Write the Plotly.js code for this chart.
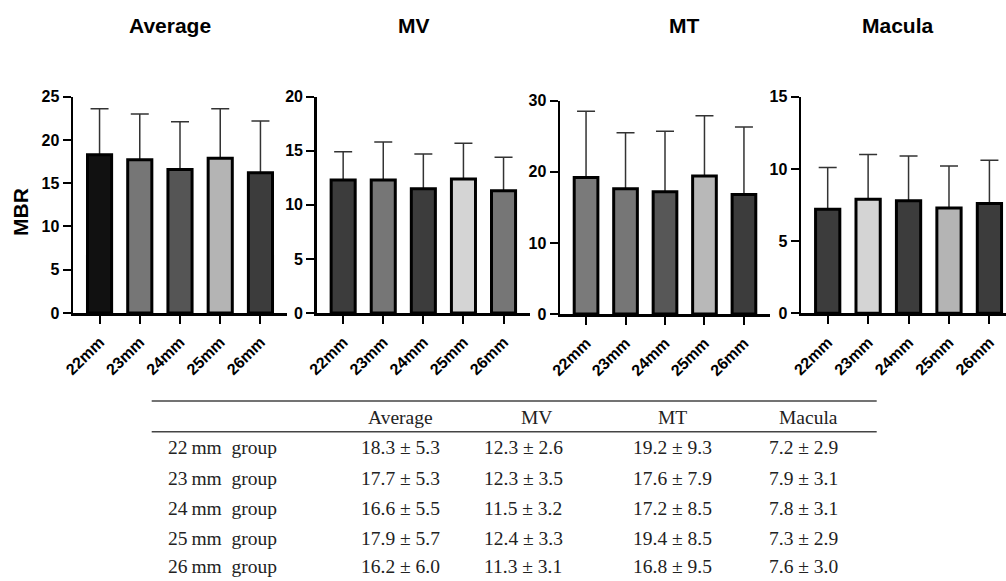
<!DOCTYPE html>
<html>
<head>
<meta charset="utf-8">
<script src="https://cdn.plot.ly/plotly-3.0.1.min.js"></script>
<style>html,body{margin:0;padding:0;background:#fff;overflow:hidden}#chart{width:1006px;height:581px}</style>
</head>
<body>
<div id="chart"></div>
<script>
// ---- data ----
const sizes = [22, 23, 24, 25, 26];
const regions = ["Average", "MV", "MT", "Macula"];
const avgMean = [18.3, 17.7, 16.6, 17.9, 16.2];
const avgSD   = [5.3, 5.3, 5.5, 5.7, 6.0];
const mvMean  = [12.3, 12.3, 11.5, 12.4, 11.3];
const mvSD    = [2.6, 3.5, 3.2, 3.3, 3.1];
const mtMean  = [19.2, 17.6, 17.2, 19.4, 16.8];
const mtSD    = [9.3, 7.9, 8.5, 8.5, 9.5];
const macMean = [7.2, 7.9, 7.8, 7.3, 7.6];
const macSD   = [2.9, 3.1, 3.1, 2.9, 3.0];
const yMax    = [25, 20, 30, 15];
const yStep   = [5, 5, 10, 5];
const yLabel  = "MBR";

// ---- styles ----
const fills = [
  ["#111111", "#767676", "#555555", "#b4b4b4", "#3c3c3c"],
  ["#3c3c3c", "#767676", "#3c3c3c", "#d4d4d4", "#767676"],
  ["#7a7a7a", "#767676", "#575757", "#b8b8b8", "#3c3c3c"],
  ["#3c3c3c", "#d4d4d4", "#3c3c3c", "#b4b4b4", "#3c3c3c"]
];
const W = 1006, H = 581;
const px = v => v / W;
const py = v => (H - v) / H;
// panel pixel boxes [left, right, top, bottom] and x range end
const boxes = [
  [73, 287, 96.7, 313, 4.66],
  [316.7, 530, 96.7, 313, 4.66],
  [560, 770, 100.7, 314, 4.66],
  [801, 1006, 96.7, 313.3, 4.41]
];
const titleX = [170, 414, 684, 898];

const means = [avgMean, mvMean, mtMean, macMean];
const sds = [avgSD, mvSD, mtSD, macSD];
const cats = sizes.map(s => s + "mm");

const sans = "Liberation Sans, Arial, Helvetica, sans-serif";
const serif = "Liberation Serif, Times New Roman, serif";
const tickFont = {family: sans, size: 16, color: "#000"};

const traces = [];
const layout = {
  width: W, height: H,
  margin: {l: 0, r: 0, t: 0, b: 0},
  paper_bgcolor: "#ffffff",
  plot_bgcolor: "rgba(0,0,0,0)",
  showlegend: false,
  annotations: [],
  shapes: []
};

for (let k = 0; k < 4; k++) {
  const n = k + 1;
  const b = boxes[k];
  const xa = "x" + n, ya = "y" + n, yo = "y" + (n + 4);
  const yt = [];
  for (let v = 0; v <= yMax[k]; v += yStep[k]) yt.push(v);
  // error bars (base layer, drawn under the bars)
  traces.push({
    type: "bar", x: cats, y: means[k], xaxis: xa, yaxis: ya,
    width: 0.6,
    marker: {color: "rgba(0,0,0,0)", line: {width: 0}},
    error_y: {type: "data", symmetric: false, array: sds[k], arrayminus: sds[k].map(() => 0),
              color: "#333333", thickness: 1.5, width: 9},
    hoverinfo: "skip"
  });
  // visible bars (overlay layer)
  traces.push({
    type: "bar", x: cats, y: means[k], xaxis: xa, yaxis: yo,
    width: 0.6,
    marker: {color: fills[k], line: {color: "#000000", width: 3}},
    hoverinfo: "x+y"
  });
  layout["xaxis" + n] = {
    domain: [px(b[0]), px(b[1])], anchor: ya, type: "category",
    range: [-0.66, b[4]],
    tickmode: "array", tickvals: cats, ticktext: cats.map(c => "<b>" + c + "</b>"),
    showline: true, linecolor: "#000", linewidth: 2.5,
    ticks: "outside", ticklen: 8, tickwidth: 2, tickcolor: "#000",
    tickangle: -45, showgrid: false, zeroline: false,
    ticklabelstandoff: 3,
    tickfont: tickFont
  };
  layout["yaxis" + n] = {
    domain: [py(b[3]), py(b[2])], anchor: xa,
    range: [0, yMax[k]],
    tickmode: "array", tickvals: yt, ticktext: yt.map(v => "<b>" + v + "</b>"),
    showline: true, linecolor: "#000", linewidth: 2.5,
    ticks: "outside", ticklen: 8, tickwidth: 2, tickcolor: "#000",
    showgrid: false, zeroline: false,
    tickfont: tickFont
  };
  layout["yaxis" + (n + 4)] = {
    overlaying: ya, anchor: xa, range: [0, yMax[k]], visible: false,
    showgrid: false, zeroline: false
  };
  layout.annotations.push({
    text: "<b>" + regions[k] + "</b>", xref: "paper", yref: "paper",
    x: px(titleX[k]), y: py(25), xanchor: "center", yanchor: "middle",
    showarrow: false, font: {family: sans, size: 21, color: "#000"}
  });
}

layout.annotations.push({
  text: "<b>" + yLabel + "</b>", xref: "paper", yref: "paper",
  x: px(20), y: py(212), xanchor: "center", yanchor: "middle", textangle: -90,
  showarrow: false, font: {family: sans, size: 21, color: "#000"}
});

// ---- table ----
const tFont = {family: serif, size: 19.5, color: "#222222"};
const headX = [400, 536, 672, 808];
const valX = [400, 523, 672, 803];
const rowY = [447.5, 478, 508, 538, 566.5];
layout.shapes.push({type: "line", xref: "paper", yref: "paper", x0: px(151.7), x1: px(876.7), y0: py(401), y1: py(401), line: {color: "#444", width: 1.5}});
layout.shapes.push({type: "line", xref: "paper", yref: "paper", x0: px(151.7), x1: px(876.7), y0: py(431.7), y1: py(431.7), line: {color: "#444", width: 1.5}});
regions.forEach((r, j) => {
  layout.annotations.push({text: r, xref: "paper", yref: "paper", x: px(headX[j]), y: py(417.5),
    xanchor: "center", yanchor: "middle", showarrow: false, font: tFont});
});
sizes.forEach((s, i) => {
  layout.annotations.push({text: s + "\u2009mm\u00a0\u00a0group", xref: "paper", yref: "paper", x: px(166), y: py(rowY[i]),
    xanchor: "left", yanchor: "middle", showarrow: false, font: tFont});
  for (let j = 0; j < 4; j++) {
    layout.annotations.push({text: means[j][i].toFixed(1) + " \u00b1 " + sds[j][i].toFixed(1),
      xref: "paper", yref: "paper", x: px(valX[j]), y: py(rowY[i]),
      xanchor: "center", yanchor: "middle", showarrow: false, font: tFont});
  }
});

Plotly.newPlot("chart", traces, layout, {displayModeBar: false, staticPlot: true});
</script>
</body>
</html>
